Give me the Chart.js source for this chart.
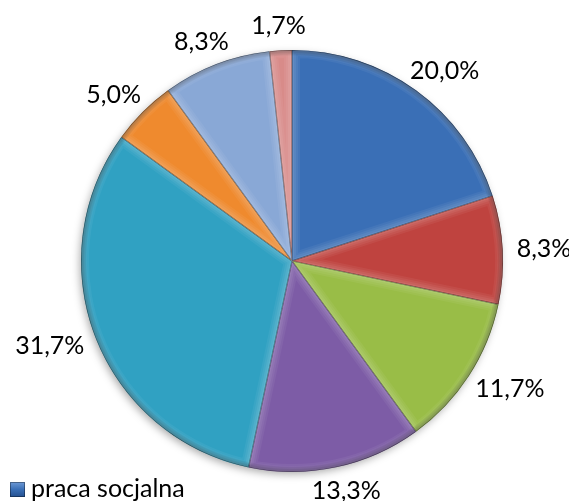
<!DOCTYPE html>
<html>
<head>
<meta charset="utf-8">
<script src="https://cdn.jsdelivr.net/npm/chart.js@4.4.1/dist/chart.umd.min.js"></script>
<style>
  html, body { margin: 0; padding: 0; background: #ffffff; }
  #wrap { width: 569px; height: 501px; position: relative; }
</style>
</head>
<body>
<div id="wrap"><canvas id="c" width="569" height="501"></canvas></div>
<script>
// Slice categories (only the first one appears in the legend)
const categories = ['praca socjalna', '', '', '', '', '', '', ''];
// Share of each category, in percent
const shares = [20.0, 8.3, 11.7, 13.3, 31.7, 5.0, 8.3, 1.7];
// Fill colour of each slice
const sliceColors = ['#3A6FB6', '#BF433F', '#99BD47', '#7D5CA6', '#30A1C2', '#EF8A2E', '#89A8D6', '#D88B89'];
// Legend entries that are drawn
const legendShown = [0];

const FONT = '25px Lato, "Open Sans", sans-serif';

function fmtPct(v) {
  return v.toFixed(1).replace('.', ',') + '%';
}

// Soft drop shadow under the whole pie
const pieShadow = {
  id: 'pieShadow',
  beforeDatasetsDraw(chart) {
    const arc = chart.getDatasetMeta(0).data[0];
    if (!arc) return;
    const { x, y, outerRadius } = arc.getProps(['x', 'y', 'outerRadius'], true);
    const ctx = chart.ctx;
    ctx.save();
    ctx.shadowColor = 'rgba(0,0,0,0.35)';
    ctx.shadowBlur = 9;
    ctx.shadowOffsetX = -2;
    ctx.shadowOffsetY = 3;
    ctx.beginPath();
    ctx.arc(x, y, outerRadius - 1, 0, Math.PI * 2);
    ctx.fillStyle = '#ffffff';
    ctx.fill();
    ctx.restore();
  }
};

// Bevelled edges on every slice
const sliceBevel = {
  id: 'sliceBevel',
  afterDatasetsDraw(chart) {
    const ctx = chart.ctx;
    chart.getDatasetMeta(0).data.forEach((arc) => {
      const { x, y, startAngle, endAngle, outerRadius } =
        arc.getProps(['x', 'y', 'startAngle', 'endAngle', 'outerRadius'], true);
      const path = new Path2D();
      path.moveTo(x, y);
      path.arc(x, y, outerRadius, startAngle, endAngle);
      path.closePath();
      ctx.save();
      ctx.clip(path);
      ctx.lineJoin = 'round';
      [[16, 0.05], [12, 0.05], [8, 0.06], [4, 0.07]].forEach(([w, a]) => {
        ctx.strokeStyle = 'rgba(255,255,255,' + a + ')';
        ctx.lineWidth = w;
        ctx.stroke(path);
      });
      // darker rim along the outer curve
      const g = ctx.createRadialGradient(x, y, outerRadius - 6, x, y, outerRadius);
      g.addColorStop(0, 'rgba(0,0,0,0)');
      g.addColorStop(1, 'rgba(0,0,0,0.3)');
      ctx.fillStyle = g;
      ctx.fill(path);
      ctx.strokeStyle = 'rgba(0,0,0,0.4)';
      ctx.lineWidth = 1.2;
      ctx.stroke(path);
      ctx.restore();
    });
  }
};

// Percentage labels outside each slice
const outsideLabels = {
  id: 'outsideLabels',
  afterDraw(chart) {
    const ctx = chart.ctx;
    const ds = chart.data.datasets[0];
    ctx.save();
    ctx.font = FONT;
    ctx.fillStyle = '#000000';
    ctx.textAlign = 'center';
    ctx.textBaseline = 'middle';
    chart.getDatasetMeta(0).data.forEach((arc, i) => {
      const { x, y, startAngle, endAngle, outerRadius } =
        arc.getProps(['x', 'y', 'startAngle', 'endAngle', 'outerRadius'], true);
      const mid = (startAngle + endAngle) / 2;
      const c = Math.cos(mid), s = Math.sin(mid);
      const text = fmtPct(ds.data[i]);
      const w = ctx.measureText(text).width;
      const h = 20;
      const d = outerRadius + 14;
      const lx = x + d * c + (w / 2) * c;
      const ly = y + d * s + (h / 2) * s;
      ctx.fillText(text, lx, ly);
    });
    ctx.restore();
  }
};

// Legend in the lower-left corner
const cornerLegend = {
  id: 'cornerLegend',
  afterDraw(chart) {
    const ctx = chart.ctx;
    const colors = chart.data.datasets[0].backgroundColor;
    ctx.save();
    legendShown.forEach((idx, k) => {
      const bx = 10, by = 482 - k * 26, sz = 15;
      const g = ctx.createLinearGradient(bx, by, bx, by + sz);
      g.addColorStop(0, '#6E9AD6');
      g.addColorStop(0.5, colors[idx]);
      g.addColorStop(1, '#24508F');
      ctx.fillStyle = g;
      ctx.fillRect(bx, by, sz, sz);
      ctx.strokeStyle = 'rgba(0,0,0,0.35)';
      ctx.lineWidth = 1;
      ctx.strokeRect(bx + 0.5, by + 0.5, sz - 1, sz - 1);
      ctx.font = FONT;
      ctx.fillStyle = '#000000';
      ctx.textAlign = 'left';
      ctx.textBaseline = 'alphabetic';
      ctx.fillText(chart.data.labels[idx], 31, by + 15);
    });
    ctx.restore();
  }
};

new Chart(document.getElementById('c'), {
  type: 'pie',
  data: {
    labels: categories,
    datasets: [{
      data: shares,
      backgroundColor: sliceColors,
      borderWidth: 0
    }]
  },
  options: {
    responsive: false,
    devicePixelRatio: 1,
    animation: false,
    layout: { padding: { left: 81, top: 50, right: 66, bottom: 29 } },
    plugins: {
      legend: { display: false },
      tooltip: { enabled: false }
    }
  },
  plugins: [pieShadow, sliceBevel, outsideLabels, cornerLegend]
});
</script>
</body>
</html>
